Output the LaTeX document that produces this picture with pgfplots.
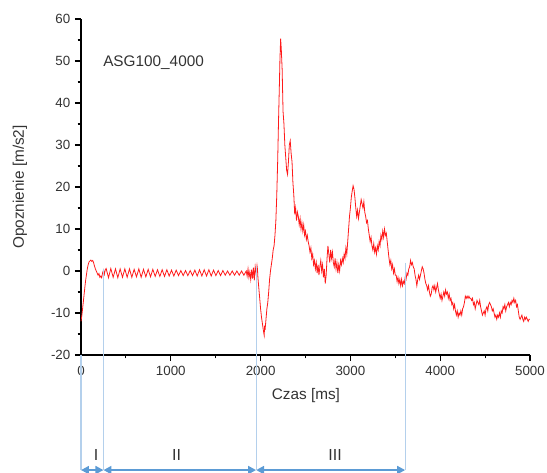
\documentclass[border=0pt]{standalone}
\usepackage{fontspec}
\setmainfont{Liberation Sans}
\usepackage{pgfplots}
\pgfplotsset{compat=1.18}
\usetikzlibrary{arrows.meta}
\definecolor{txt}{HTML}{333333}
\definecolor{arrblue}{HTML}{5B9BD5}
\definecolor{lineblue}{HTML}{B4D0EC}
\definecolor{sig}{HTML}{FF1A1A}
\begin{document}
\begin{tikzpicture}
\path[use as bounding box] (-60.75pt,-88.5pt) rectangle (349.5pt,266.25pt);
\begin{axis}[
  scale only axis, width=336.75pt, height=252pt,
  at={(0pt,0pt)}, anchor=south west,
  xmin=0, xmax=5000, ymin=-20, ymax=60,
  axis lines=left, axis line style={-, line width=1.1pt, black},
  tick align=outside, tick style={black, line width=0.8pt},
  major tick length=4.5pt, minor tick length=2.5pt,
  xtick={0,1000,2000,3000,4000,5000}, ytick={-20,-10,0,10,20,30,40,50,60},
  minor x tick num=1, minor y tick num=1,
  scaled x ticks=false,
  /pgf/number format/assume math mode=true,
  /pgf/number format/set thousands separator={},
  tick label style={font=\fontsize{10}{12}\selectfont, text=txt},
  label style={font=\fontsize{11.5}{13}\selectfont, text=txt},
  xlabel={Czas [ms]}, ylabel={Opoznienie [m/s2]},
  xlabel style={at={(axis description cs:0.501,-0.122)}, anchor=center},
  ylabel style={at={(axis description cs:-0.136,0.5)}, anchor=center},
  clip=false,
]
\addplot[sig, line width=0.6pt] coordinates {
(0,-12) (10,-10.5) (20,-8.5) (30,-6.5) (40,-4.5) (50,-2.5) (60,-1) (70,0.5) (80,1.5) (90,2.2)
(100,2.4) (110,2.6) (120,2.3) (130,2.5) (140,2) (150,1.2) (160,0.5) (170,0) (180,-0.5) (190,-1)
(200,-0.6) (210,-1.5) (220,-1.2) (230,-1.6) (240,-0.5) (250,0.2) (260,-0.8) (270,0.3)
(280,0.6) (306,-1.6) (332,0.6) (358,-1.5) (384,0.5) (410,-1.6) (436,0.5) (462,-1.5) (488,0.5) (514,-1.5)
(540,0.5) (566,-1.5) (592,0.4) (618,-1.4) (644,0.5) (670,-1.5) (696,0.4) (722,-1.4) (748,0.4) (774,-1.4)
(800,0.4) (826,-1.3) (852,0.3) (878,-1.3) (904,0.3) (930,-1.3) (956,0.3) (982,-1.2) (1008,0.2) (1034,-1.2)
(1060,0.2) (1086,-1.1) (1112,0.1) (1138,-1.1) (1164,0.1) (1190,-1.1) (1216,0.1) (1242,-1.1) (1268,0.2) (1294,-1.2)
(1320,0.3) (1346,-1.2) (1372,0.3) (1398,-1.2) (1424,0.3) (1450,-1.2) (1476,0.2) (1502,-1.1) (1528,0.1) (1554,-1.1)
(1580,0.1) (1606,-1.0) (1632,0.0) (1658,-1.0) (1684,0.0) (1710,-1.0) (1736,0.0) (1762,-1.0) (1788,0.0) (1814,-1.0)
(1840,0.0) (1850,-1.2) (1860,0.5) (1870,-1.5) (1880,-0.2) (1890,-2) (1900,0.3) (1910,-1.8) (1920,0.8) (1930,-2.2)
(1940,1) (1950,-0.5) (1960,1.3) (1965,0.5) (1970,-1.5) (1980,-4) (1990,-6.5) (2000,-9) (2010,-11) (2020,-12.5)
(2030,-14) (2040,-15.3) (2045,-13) (2050,-14) (2060,-11.5) (2070,-9) (2080,-7.5) (2090,-5) (2100,-2) (2110,0)
(2120,1.5) (2130,3) (2140,5) (2150,6) (2160,8.5) (2170,12) (2180,18) (2190,26) (2200,36) (2210,45)
(2215,50) (2223,55.3) (2230,53) (2240,48) (2250,38) (2260,35) (2270,30) (2280,27) (2290,24) (2300,23)
(2310,26) (2320,30) (2330,31) (2340,28) (2350,26) (2360,21) (2370,18) (2380,13.5) (2390,15) (2400,12)
(2410,14) (2420,13) (2430,11) (2440,12.5) (2450,10) (2460,11.5) (2470,9.5) (2480,11) (2490,8.5) (2500,9.5)
(2510,7.5) (2520,8.5) (2530,7) (2540,6) (2550,4.5) (2560,5.5) (2570,3) (2580,4) (2590,1.5) (2600,2.5)
(2610,0.5) (2620,2) (2630,-0.5) (2640,1.5) (2650,-1) (2660,1) (2670,2.5) (2680,0) (2690,1.5) (2700,-1.5)
(2710,0.5) (2720,-3) (2730,-1) (2740,3) (2750,6) (2760,4) (2770,2) (2780,5) (2790,3) (2800,4.5)
(2810,2) (2820,1) (2830,3) (2840,0.5) (2850,2) (2860,-0.5) (2870,1.5) (2880,0) (2890,2.5) (2900,1.5)
(2910,3) (2920,2) (2930,4) (2940,3) (2950,5.5) (2960,4) (2970,7) (2980,10) (2990,13) (3000,15)
(3010,17.5) (3020,19) (3030,20.3) (3040,19.5) (3050,17.5) (3060,15) (3070,13) (3080,14.5) (3090,12.5) (3100,14)
(3110,15.5) (3120,17) (3130,16) (3140,15) (3150,16.5) (3160,14) (3170,13) (3180,11.5) (3190,12) (3200,10)
(3210,8.5) (3220,7) (3230,8) (3240,6) (3250,5) (3260,6.5) (3270,4.5) (3280,5.5) (3290,4) (3300,6)
(3310,5) (3320,7) (3330,6) (3340,8.5) (3350,7.5) (3360,9.5) (3370,8) (3380,10) (3390,8.5) (3400,9)
(3410,7) (3420,5) (3430,3) (3440,1.5) (3450,2.5) (3460,0.5) (3470,1.5) (3480,-0.5) (3490,0.5) (3500,-1)
(3510,-1) (3520,-2.5) (3530,-1.5) (3540,-3) (3550,-2) (3560,-3.5) (3570,-2) (3580,-3.5) (3590,-2.5) (3600,-3)
(3610,-1.5) (3620,-2) (3630,-0.5) (3640,-1) (3650,0.5) (3660,1) (3670,2.5) (3680,1.5) (3690,2) (3700,1)
(3710,0.5) (3720,-1) (3730,-2) (3740,-3.5) (3750,-2) (3760,-1) (3770,-2) (3780,-1) (3790,0) (3800,1)
(3810,0.5) (3820,-0.5) (3830,-2) (3840,-3) (3850,-3.5) (3860,-4.5) (3870,-3.5) (3880,-5) (3890,-6) (3900,-5.5)
(3910,-4) (3920,-3.5) (3930,-4.5) (3940,-3.5) (3950,-5) (3960,-4) (3970,-3) (3980,-4.5) (3990,-5.5) (4000,-6.5)
(4010,-5.5) (4020,-7) (4030,-6) (4040,-5) (4050,-6) (4060,-4.5) (4070,-5.5) (4080,-5) (4090,-6.5) (4100,-5.5)
(4110,-7) (4120,-6.5) (4130,-8) (4140,-7.5) (4150,-9) (4160,-8) (4170,-9.5) (4180,-10.5) (4190,-9.5) (4200,-11)
(4210,-10) (4220,-10.5) (4230,-9.5) (4240,-10.5) (4250,-9) (4260,-8.5) (4270,-7.5) (4280,-6) (4290,-6.5) (4300,-6)
(4310,-6.5) (4320,-6) (4330,-6.5) (4340,-6.5) (4350,-7) (4360,-6.5) (4370,-8) (4380,-7.5) (4390,-9) (4400,-8)
(4410,-7) (4420,-7.5) (4430,-8) (4440,-7) (4450,-8.5) (4460,-9.5) (4470,-10.5) (4480,-10) (4490,-9.5) (4500,-10.5)
(4510,-9) (4520,-8.5) (4530,-9.5) (4540,-8) (4550,-7.5) (4560,-8) (4570,-8.5) (4580,-9.5) (4590,-9) (4600,-10)
(4610,-11) (4620,-10.5) (4630,-11.5) (4640,-10.5) (4650,-11) (4660,-10) (4670,-11) (4680,-9.5) (4690,-10) (4700,-8.5)
(4710,-9) (4720,-8) (4730,-9.5) (4740,-8.5) (4750,-8) (4760,-7.5) (4770,-8.5) (4780,-7.5) (4790,-8) (4800,-7)
(4810,-7.5) (4820,-6.5) (4830,-7.5) (4840,-7) (4850,-8.5) (4860,-8) (4870,-9.5) (4880,-11) (4890,-11.5) (4900,-11)
(4910,-10.5) (4920,-11.5) (4930,-12) (4940,-11) (4950,-11.5) (4960,-11) (4970,-11.5) (4980,-12) (4990,-11.5) (5000,-11.5)
};
\node[anchor=west, font=\fontsize{11.5}{13}\selectfont, text=txt, inner sep=0pt] at (axis cs:245,49.6) {ASG100\_4000};
% phase boundaries
\draw[lineblue, line width=0.8pt] (axis cs:0,-20) -- (axis cs:0,-47.4);
\draw[lineblue, line width=0.8pt] (axis cs:250,0.5) -- (axis cs:250,-47.4);
\draw[lineblue, line width=0.8pt] (axis cs:1950,1.3) -- (axis cs:1950,-47.4);
\draw[lineblue, line width=0.8pt] (axis cs:3610,2) -- (axis cs:3610,-47.4);
\draw[arrblue, line width=1.5pt, {Triangle[length=6pt,width=6pt]}-{Triangle[length=6pt,width=6pt]}] (axis cs:0,-47.4) -- (axis cs:250,-47.4);
\draw[arrblue, line width=1.5pt, {Triangle[length=6pt,width=6pt]}-{Triangle[length=6pt,width=6pt]}] (axis cs:250,-47.4) -- (axis cs:1950,-47.4);
\draw[arrblue, line width=1.5pt, {Triangle[length=6pt,width=6pt]}-{Triangle[length=6pt,width=6pt]}] (axis cs:1950,-47.4) -- (axis cs:3610,-47.4);
\node[font=\fontsize{12}{14}\selectfont, text=txt] at (axis cs:167,-43.8) {I};
\node[font=\fontsize{12}{14}\selectfont, text=txt] at (axis cs:1065,-43.8) {II};
\node[font=\fontsize{12}{14}\selectfont, text=txt] at (axis cs:2830,-43.8) {III};
\end{axis}
\end{tikzpicture}
\end{document}
